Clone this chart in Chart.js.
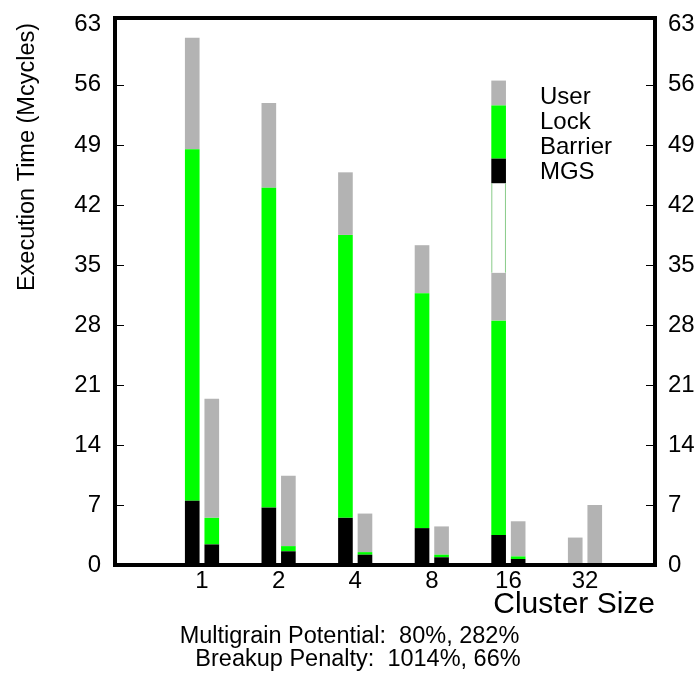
<!DOCTYPE html>
<html><head><meta charset="utf-8">
<script src="https://cdn.jsdelivr.net/npm/chart.js@4"></script>
<style>html,body{margin:0;padding:0;background:#fff}#wrap{width:697px;height:679px;position:relative}</style>
</head><body><div id="wrap"><canvas id="c" width="697" height="679"></canvas></div>
<script>
// ---- data ----
const clusterSizes = ['1', '2', '4', '8', '16', '32'];
const positions = [1, 2, 3, 4, 5, 6];
// left bar of each pair
const mgsA     = [7.5, 6.7, 5.5, 4.3, 3.5, 0];
const barrierA = [0, 0, 0, 0, 0, 0];
const lockA    = [41.0, 37.3, 33.0, 27.4, 25.0, 0];
const userA    = [13.0, 9.9, 7.3, 5.6, 5.6, 3.2];
// right bar of each pair
const mgsB     = [2.4, 1.6, 1.2, 0.9, 0.7, 0];
const barrierB = [0, 0, 0, 0, 0, 0];
const lockB    = [3.1, 0.6, 0.3, 0.3, 0.3, 0];
const userB    = [13.9, 8.2, 4.5, 3.3, 4.1, 7.0];
const yTicks = [0, 7, 14, 21, 28, 35, 42, 49, 56, 63];
const seriesNames = ['User', 'Lock', 'Barrier', 'MGS'];
const keyEdges = [56.5, 53.6, 47.4, 44.5]; // key swatch boundaries (value units)
const yTitle = 'Execution Time (Mcycles)';
const xTitle = 'Cluster Size';
const footerLines = ['Multigrain Potential:  80%, 282%', 'Breakup Penalty:  1014%, 66%'];

const COL = {User: '#b3b3b3', Lock: '#00ff00', Barrier: '#ffffff', MGS: '#000000'};
const FONT = "'Liberation Sans', Arial, Helvetica, sans-serif";
Chart.defaults.font.family = FONT;
Chart.defaults.color = '#000';

function pts(arr) { return arr.map((v, i) => ({x: positions[i], y: v})); }
function ds(label, arr, stack) {
  return {label, data: pts(arr), stack, backgroundColor: COL[label], borderWidth: 0,
          categoryPercentage: 0.51, barPercentage: 0.75};
}
const datasets = [
  ds('MGS', mgsA, 'A'), ds('Barrier', barrierA, 'A'), ds('Lock', lockA, 'A'), ds('User', userA, 'A'),
  ds('MGS', mgsB, 'B'), ds('Barrier', barrierB, 'B'), ds('Lock', lockB, 'B'), ds('User', userB, 'B')
];

const framePlugin = {
  id: 'frame',
  afterDatasetsDraw(chart) {
    const {ctx, chartArea: a} = chart;
    const ys = chart.scales.y;
    ctx.save();
    // key swatch aligned with the left bar of the "16" group
    const bar = chart.getDatasetMeta(0).data[4];
    const x0 = bar.x - bar.width / 2, w = bar.width;
    const totalTop = mgsA[4] + barrierA[4] + lockA[4] + userA[4];
    const segs = [
      ['User', keyEdges[0], keyEdges[1]],
      ['Lock', keyEdges[1], keyEdges[2]],
      ['MGS', keyEdges[2], keyEdges[3]],
      ['Barrier', keyEdges[3], totalTop]
    ];
    segs.forEach(([n, hi, lo]) => {
      const t = ys.getPixelForValue(hi), b = ys.getPixelForValue(lo);
      ctx.fillStyle = COL[n];
      ctx.fillRect(x0, t, w, b - t);
      if (n === 'Barrier') {
        ctx.strokeStyle = 'rgba(60,170,60,0.6)';
        ctx.lineWidth = 1;
        ctx.beginPath();
        ctx.moveTo(x0 + 0.5, t); ctx.lineTo(x0 + 0.5, b);
        ctx.moveTo(x0 + w - 0.5, t); ctx.lineTo(x0 + w - 0.5, b);
        ctx.stroke();
      }
    });
    const topPx = ys.getPixelForValue(keyEdges[0]);
    ctx.fillStyle = '#000';
    ctx.font = '24px ' + FONT;
    ctx.textAlign = 'left';
    ctx.textBaseline = 'middle';
    seriesNames.forEach((n, i) => ctx.fillText(n, x0 + w + 34, topPx + 17 + 25 * i));

    // frame
    ctx.strokeStyle = '#000';
    ctx.lineWidth = 4;
    ctx.strokeRect(a.left, a.top, a.right - a.left, a.bottom - a.top);
    // inward ticks
    ctx.lineWidth = 1;
    ctx.beginPath();
    yTicks.forEach(v => {
      if (v === 0 || v === 63) return;
      const y = Math.round(ys.getPixelForValue(v)) + 0.5;
      ctx.moveTo(a.left, y); ctx.lineTo(a.left + 9, y);
      ctx.moveTo(a.right, y); ctx.lineTo(a.right - 9, y);
    });
    ctx.stroke();

    // y title (rotated)
    ctx.save();
    ctx.font = '23.5px ' + FONT;
    ctx.textAlign = 'center';
    ctx.textBaseline = 'middle';
    ctx.translate(28, 157);
    ctx.rotate(-Math.PI / 2);
    ctx.fillText(yTitle, 0, 0);
    ctx.restore();

    // footer
    ctx.font = '23.5px ' + FONT;
    ctx.textAlign = 'center';
    ctx.textBaseline = 'middle';
    ctx.fillText(footerLines[0], 349.5, 637);
    ctx.fillText(footerLines[1], 358, 660);
    ctx.restore();
  }
};

const yTickOpts = {
  min: 0, max: 63.8,
  afterBuildTicks: s => { s.ticks = yTicks.map(v => ({value: v})); },
  grid: {display: false, drawTicks: false}, border: {display: false}
};

new Chart(document.getElementById('c'), {
  type: 'bar',
  data: {datasets},
  options: {
    responsive: false, animation: false,
    layout: {padding: {top: 18, left: 0, right: 0, bottom: 0}},
    plugins: {legend: {display: false}, tooltip: {enabled: false}},
    scales: {
      x: {
        type: 'linear', stacked: true, offset: false, min: -0.136, max: 6.914,
        afterBuildTicks: s => { s.ticks = positions.map(v => ({value: v})); },
        afterFit: s => { s.height = 114; s.paddingLeft = 0; s.paddingRight = 0; },
        ticks: {autoSkip: false, maxRotation: 0, padding: 2, font: {size: 24},
                callback: (v, i) => clusterSizes[i]},
        grid: {display: false, drawTicks: false}, border: {display: false},
        title: {display: true, text: xTitle, align: 'end', font: {size: 30},
                padding: {top: 0, bottom: 56}}
      },
      y: Object.assign({}, yTickOpts, {
        position: 'left', stacked: true,
        afterFit: s => { s.width = 115; s.paddingTop = 0; s.paddingBottom = 0; },
        ticks: {padding: 14, font: {size: 24}}
      }),
      y2: Object.assign({}, yTickOpts, {
        type: 'linear', position: 'right',
        afterFit: s => { s.width = 42; s.paddingTop = 0; s.paddingBottom = 0; },
        ticks: {padding: 13, font: {size: 24}}
      })
    }
  },
  plugins: [framePlugin]
});
</script>
</body></html>
